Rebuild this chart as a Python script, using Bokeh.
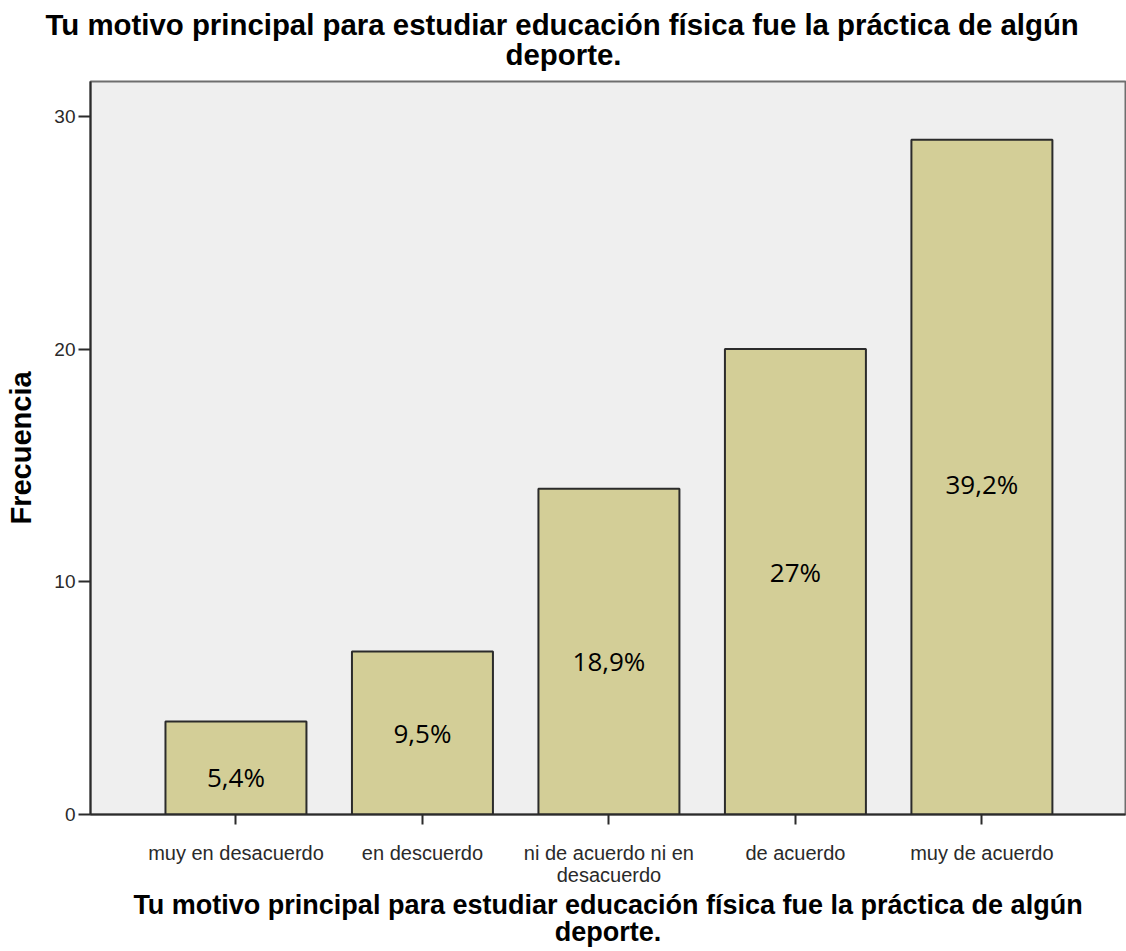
from bokeh.plotting import figure
from bokeh.models import Range1d, FixedTicker, ColumnDataSource, Title
from bokeh.core.properties import value
from bokeh.embed import file_html
from bokeh.resources import INLINE

# ---- data ----
categories = ["muy en desacuerdo", "en descuerdo", "ni de acuerdo ni en\ndesacuerdo",
              "de acuerdo", "muy de acuerdo"]
counts = [4, 7, 14, 20, 29]
pct_labels = ["5,4%", "9,5%", "18,9%", "27%", "39,2%"]
pct_label_y = [1.6, 3.5, 6.6, 10.4, 14.2]
y_ticks = [0, 10, 20, 30]
title_lines = ["Tu motivo principal para estudiar educación física fue la práctica de algún",
               "deporte."]
y_label = "Frecuencia"

xpos = list(range(1, len(categories) + 1))

src = ColumnDataSource(dict(x=xpos, top=counts, lab=pct_labels, ly=pct_label_y))

p = figure(width=1126, height=951,
           x_range=Range1d(0.22, 5.77), y_range=Range1d(0, 31.5),
           output_backend="svg", toolbar_location=None, title=None,
           min_border_left=90, min_border_right=1,
           min_border_top=81, min_border_bottom=137)

p.background_fill_color = "#efefef"
p.border_fill_color = "white"
p.outline_line_color = "#6e6e6e"
p.outline_line_width = 2
p.grid.visible = False

p.vbar(x="x", top="top", bottom=0, width=0.756, source=src,
       fill_color="#d3ce97", line_color="#2b2b2b", line_width=2)

p.text(x="x", y="ly", text="lab", source=src,
       text_font=value("Open Sans"), text_font_size="26px",
       text_align="center", text_baseline="middle", text_color="black")

# chart title: two lines, centred on the page rather than on the frame
title_style = dict(align="left", text_font="Liberation Sans", text_font_size="29.4px",
                   text_font_style="bold", text_color="black")
p.add_layout(Title(text=title_lines[1], offset=415, vertical_align="top",
                   standoff=18, **title_style), "above")
p.add_layout(Title(text=title_lines[0], offset=-45, vertical_align="bottom",
                   standoff=-24, **title_style), "above")

xa = p.below[0]
xa.ticker = FixedTicker(ticks=xpos)
xa.major_label_overrides = {x: c for x, c in zip(xpos, categories)}
xa.axis_line_color = "#2b2b2b"
xa.axis_line_width = 2
xa.major_tick_line_color = "#2b2b2b"
xa.major_tick_line_width = 2
xa.major_tick_out = 10
xa.major_tick_in = 0
xa.minor_tick_line_color = None
xa.major_label_text_font = "Liberation Sans"
xa.major_label_text_font_size = "20px"
xa.major_label_text_color = "#2a2a2a"
xa.major_label_standoff = 17
xa.major_label_text_line_height = 1.0
xa.axis_label = "\n".join(title_lines)
xa.axis_label_text_font = "Liberation Sans"
xa.axis_label_text_font_size = "27px"
xa.axis_label_text_font_style = "bold"
xa.axis_label_text_color = "black"
xa.axis_label_standoff = 1
xa.axis_label_text_line_height = 0.9

ya = p.left[0]
ya.ticker = FixedTicker(ticks=y_ticks)
ya.axis_line_color = "#2b2b2b"
ya.axis_line_width = 2
ya.major_tick_line_color = "#2b2b2b"
ya.major_tick_line_width = 2
ya.major_tick_out = 12
ya.major_tick_in = 0
ya.minor_tick_line_color = None
ya.major_label_text_font = "Liberation Sans"
ya.major_label_text_font_size = "19px"
ya.major_label_text_color = "#2a2a2a"
ya.major_label_standoff = 3
ya.axis_label = y_label
ya.axis_label_text_font = "Liberation Sans"
ya.axis_label_text_font_size = "29px"
ya.axis_label_text_font_style = "bold"
ya.axis_label_text_color = "black"
ya.axis_label_standoff = 14

open("out.html", "w").write(file_html(p, INLINE))
